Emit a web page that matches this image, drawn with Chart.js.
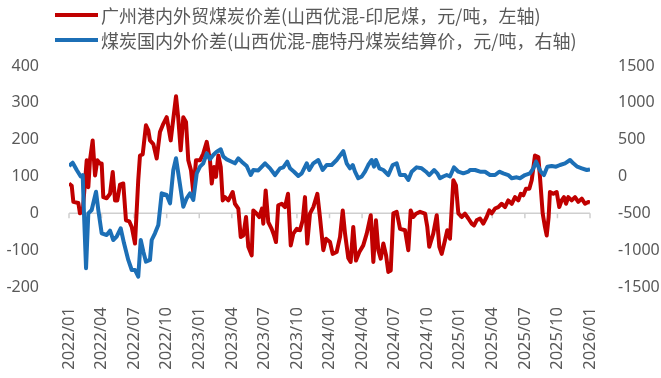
<!DOCTYPE html>
<html>
<head>
<meta charset="utf-8">
<script src="https://cdn.jsdelivr.net/npm/chart.js@4.4.0/dist/chart.umd.min.js"></script>
<style>
  html, body { margin: 0; padding: 0; background: #fff; }
</style>
</head>
<body>
<canvas id="grafico" width="661" height="378"></canvas>
<script>
// meses desde 2022/01 (0 = 2022/01, 48 = 2026/01)
const redMonths = [0, 0.25, 0.40, 0.86, 1.01, 1.26, 1.63, 1.78, 1.93, 2.18, 2.40, 2.61, 2.86, 3.01, 3.16, 3.47, 3.78, 4.03, 4.24, 4.45,
  4.70, 5.00, 5.25, 5.56, 5.78, 6.08, 6.38, 6.54, 6.79, 7.09, 7.31, 7.46, 7.77, 8.08, 8.38, 8.69, 9.00, 9.37, 9.61, 9.86,
  10.07, 10.29, 10.53, 10.78, 10.99, 11.24, 11.45, 11.70, 12.07, 12.37, 12.69, 12.99, 13.15, 13.36, 13.54, 13.76, 13.98, 14.16, 14.37, 14.68,
  15.08, 15.29, 15.60, 15.82, 16.06, 16.31, 16.52, 16.83, 16.98, 17.29, 17.53, 17.78, 17.90, 18.12, 18.36, 18.67, 18.89, 19.07, 19.28, 19.60,
  19.90, 20.18, 20.43, 20.67, 20.98, 21.28, 21.53, 21.74, 21.95, 22.20, 22.51, 22.88, 23.12, 23.43, 23.68, 24.05, 24.29, 24.66, 24.97, 25.22,
  25.43, 25.73, 25.95, 26.19, 26.44, 26.75, 27.11, 27.43, 27.80, 28.04, 28.28, 28.50, 28.72, 28.96, 29.21, 29.42, 29.64, 29.88, 30.19, 30.50,
  30.96, 31.26, 31.48, 31.72, 31.97, 32.34, 32.80, 33.01, 33.19, 33.56, 33.88, 34.12, 34.34, 34.64, 34.85, 35.10, 35.41, 35.65, 35.87, 36.18,
  36.48, 36.79, 37.10, 37.31, 37.56, 37.87, 38.17, 38.48, 38.72, 38.94, 39.25, 39.55, 39.86, 40.17, 40.47, 40.79, 41.09, 41.39, 41.62, 41.86,
  42.10, 42.41, 42.63, 42.93, 43.24, 43.39, 43.64, 43.85, 44.01, 44.19, 44.31, 44.62, 44.93, 45.17, 45.39, 45.60, 45.79, 46.00, 46.31, 46.62,
  46.92, 47.24, 47.54, 47.84, 48.00];
const redValues = [81, 75, 31, 28, 0, 4, 144, 71, 144, 198, 103, 144, 135, 135, 44, 41, 53, 112, 35, 35,
  78, 81, -19, -22, -37, -82, 90, 157, 160, 239, 225, 198, 188, 149, 221, 243, 261, 198, 257, 318,
  257, 171, 261, 248, 144, 117, 58, 144, 144, 162, 194, 144, 81, 126, 99, 157, 126, 35, 44, 35,
  58, 26, 13, -64, -60, -10, -91, -114, 8, -1, -10, 13, -28, 62, -24, -42, -60, -78, 22, 26,
  17, 53, -87, -55, -42, -46, -19, 44, -82, -1, 17, 53, -10, -100, -69, -78, -110, -105, -64, 8,
  -55, -121, -132, -37, -128, -105, -87, -55, -5, -132, -19, -100, -123, -82, -114, -159, -155, 0, 4, -42,
  -46, -100, 8, -10, -1, 4, -1, -37, -91, -55, -5, -91, -110, -73, -46, -69, 90, 76, 0, -10,
  -1, -14, -28, -33, -19, -14, -28, -10, 8, 0, 13, 17, 26, 17, 35, 26, 44, 35, 53, 49,
  67, 67, 90, 157, 153, 99, 0, -37, -60, -10, 58, 53, 58, 17, 35, 44, 26, 44, 35, 44,
  31, 40, 26, 31, 29];

const blueMonths = [0, 0.34, 0.71, 1.08, 1.26, 1.38, 1.57, 1.78, 2.09, 2.49, 2.70, 3.01, 3.47, 3.78, 4.08, 4.39, 4.76, 5.07, 5.46, 5.78,
  6.08, 6.38, 6.61, 6.85, 7.09, 7.46, 7.62, 7.92, 8.23, 8.54, 9.00, 9.31, 9.61, 9.86, 10.07, 10.53, 10.84, 11.15, 11.45, 11.77,
  12.07, 12.37, 12.69, 12.99, 13.29, 13.61, 13.98, 14.22, 14.53, 14.99, 15.29, 15.60, 15.91, 16.37, 16.74, 16.98, 17.44, 18.06, 18.52, 18.98,
  19.44, 19.74, 20.11, 20.36, 20.73, 21.13, 21.44, 21.90, 22.14, 22.51, 22.97, 23.37, 23.74, 24.20, 24.66, 25.27, 25.58, 25.89, 26.14, 26.35,
  26.65, 26.97, 27.27, 27.57, 27.89, 28.10, 28.28, 28.59, 28.96, 29.42, 29.82, 30.19, 30.50, 30.96, 31.26, 31.57, 32.03, 32.49, 32.89, 33.19,
  33.63, 33.93, 34.18, 34.48, 34.80, 35.10, 35.47, 35.87, 36.33, 36.79, 36.94, 37.41, 37.87, 38.33, 38.79, 39.25, 39.64, 40.01, 40.47, 40.79,
  41.25, 41.55, 42.01, 42.47, 42.78, 43.03, 43.24, 43.46, 43.76, 44.07, 44.47, 44.87, 45.24, 45.70, 46.16, 46.46, 46.83, 47.24, 47.70, 48.00];
const blueValues = [142, 187, 88, 0, 20, -500, -1246, -500, -455, -206, -455, -771, -794, -735, -862, -817, -703, -907, -1133, -1269,
  -1269, -1360, -862, -1020, -1156, -1133, -862, -771, -658, -228, -251, -364, 88, 247, 43, -410, -296, -228, -319, 43,
  133, 179, 315, 235, 292, 337, 369, 269, 233, 201, 179, 247, 201, 142, 20, 88, 83, 179, 111, 20,
  111, 124, 201, 111, 65, 7, 43, 179, 88, 179, 224, 88, 156, 156, 224, 345, 179, 111, 156, 65,
  -24, 0, 65, 156, 224, 133, 224, 111, 88, 20, 156, 179, 20, 20, -47, 65, 124, 111, 65, 20,
  88, 43, -24, 0, 20, 0, 124, 65, 43, 65, 88, 88, 65, 65, 20, 20, 65, 43, 20, -24,
  -11, -24, 20, 43, 111, 201, 133, 65, 20, 133, 142, 133, 156, 179, 224, 179, 133, 111, 88, 97];

const legendLabels = ['广州港内外贸煤炭价差(山西优混-印尼煤，元/吨，左轴)', '煤炭国内外价差(山西优混-鹿特丹煤炭结算价，元/吨，右轴)'];
const leftTicks = { min: -200, max: 400, step: 100 };
const rightTicks = { min: -1500, max: 1500, step: 500 };

const corVermelho = '#C00000';
const corAzul = '#1C6FB6';
const corTexto = '#595959';
const corEixo = '#CFCFCF';

function pontos(meses, valores) {
  return meses.map((m, i) => ({ x: m, y: valores[i] }));
}

function rotuloMes(v) {
  const ano = 2022 + Math.floor(v / 12);
  const mes = (v % 12) + 1;
  return ano + '/' + (mes < 10 ? '0' + mes : mes);
}

// linha do zero (eixo esquerdo) com as marcas de trimestre
const linhaZeroPlugin = {
  id: 'linhaZero',
  beforeDatasetsDraw(chart) {
    const { ctx, chartArea, scales } = chart;
    const y0 = scales.y.getPixelForValue(0);
    ctx.save();
    ctx.strokeStyle = corEixo;
    ctx.lineWidth = 1.5;
    ctx.beginPath();
    ctx.moveTo(chartArea.left, y0);
    ctx.lineTo(chartArea.right, y0);
    scales.x.ticks.forEach(t => {
      const px = scales.x.getPixelForValue(t.value);
      ctx.moveTo(px, y0);
      ctx.lineTo(px, y0 + 5);
    });
    ctx.stroke();
    ctx.restore();
  }
};

// legenda desenhada à mão pra ficar igual ao Excel
const legendaPlugin = {
  id: 'legenda',
  afterDraw(chart) {
    const ctx = chart.ctx;
    const cores = [corVermelho, corAzul];
    const linhas = [15, 40];
    ctx.save();
    ctx.font = '18px "Noto Sans CJK SC"';
    ctx.textBaseline = 'middle';
    ctx.fillStyle = corTexto;
    legendLabels.forEach((txt, i) => {
      ctx.strokeStyle = cores[i];
      ctx.lineWidth = 4;
      ctx.beginPath();
      ctx.moveTo(55, linhas[i]);
      ctx.lineTo(98, linhas[i]);
      ctx.stroke();
      ctx.fillText(txt, 101, linhas[i] + 1);
    });
    ctx.restore();
  }
};

const ctx = document.getElementById('grafico');
new Chart(ctx, {
  type: 'line',
  data: {
    datasets: [{
      label: legendLabels[0],
      data: pontos(redMonths, redValues),
      borderColor: corVermelho,
      backgroundColor: corVermelho,
      borderWidth: 4,
      borderJoinStyle: 'round',
      pointRadius: 0,
      tension: 0,
      fill: false,
      yAxisID: 'y',
      order: 1
    }, {
      label: legendLabels[1],
      data: pontos(blueMonths, blueValues),
      borderColor: corAzul,
      backgroundColor: corAzul,
      borderWidth: 4,
      borderJoinStyle: 'round',
      pointRadius: 0,
      tension: 0,
      fill: false,
      yAxisID: 'y1',
      order: 0
    }]
  },
  options: {
    responsive: false,
    animation: false,
    devicePixelRatio: 1,
    layout: { padding: { top: 66, left: 0, right: 0, bottom: 0 } },
    plugins: {
      legend: { display: false },
      tooltip: { enabled: false }
    },
    scales: {
      x: {
        type: 'linear',
        position: 'bottom',
        min: 0,
        max: 48,
        grid: { display: false },
        border: { display: false },
        ticks: {
          stepSize: 3,
          autoSkip: false,
          minRotation: 90,
          maxRotation: 90,
          padding: 12,
          color: corTexto,
          font: { family: 'Noto Sans', size: 16.5 },
          callback: v => rotuloMes(v)
        },
        afterFit: s => { s.height = 91; }
      },
      y: {
        position: 'left',
        min: leftTicks.min,
        max: leftTicks.max,
        grid: { display: false },
        border: { display: false },
        ticks: {
          stepSize: leftTicks.step,
          padding: 22,
          color: corTexto,
          font: { family: 'Noto Sans', size: 16 },
          callback: v => String(v)
        },
        afterFit: s => { s.width = 69; }
      },
      y1: {
        position: 'right',
        min: rightTicks.min,
        max: rightTicks.max,
        grid: { display: false },
        border: { display: false },
        ticks: {
          stepSize: rightTicks.step,
          padding: 20,
          color: corTexto,
          font: { family: 'Noto Sans', size: 16 },
          callback: v => String(v)
        },
        afterFit: s => { s.width = 71; }
      }
    }
  },
  plugins: [linhaZeroPlugin, legendaPlugin]
});
</script>
</body>
</html>
